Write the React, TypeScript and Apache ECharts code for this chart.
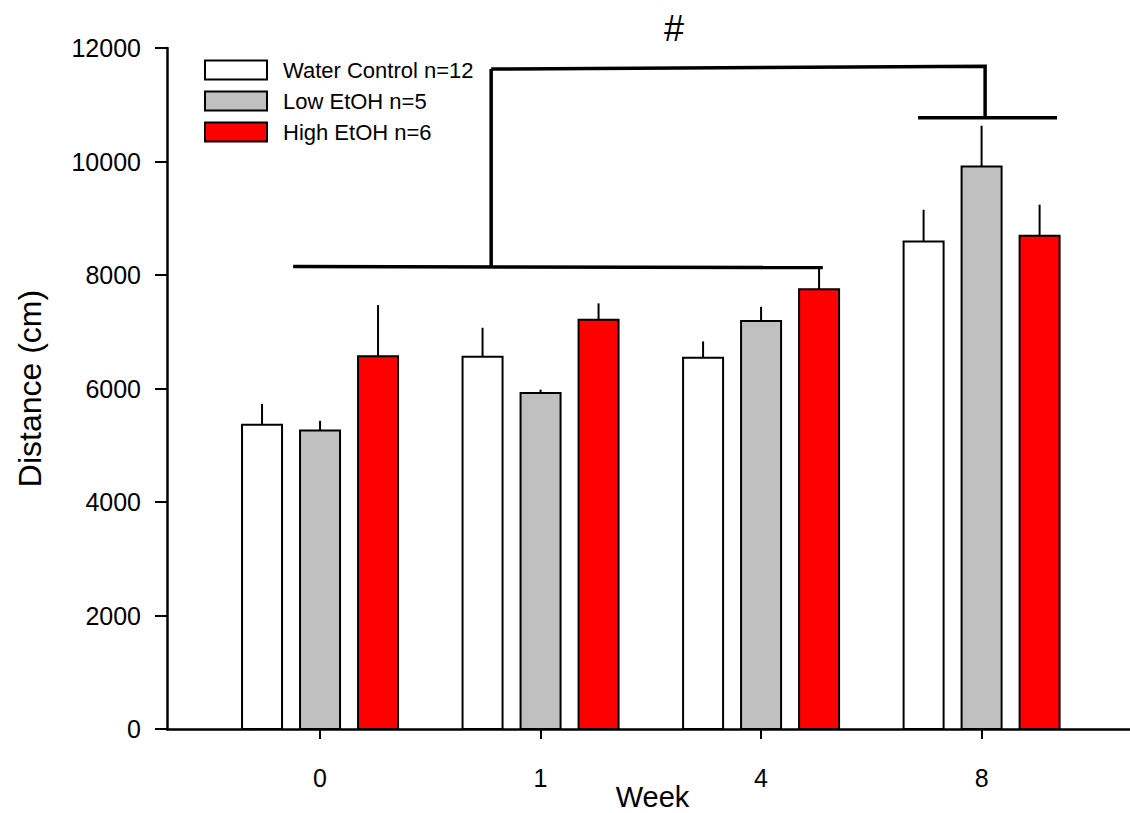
import React, { useEffect, useRef } from "react";
import * as echarts from "echarts";

const weeks = ["0", "1", "4", "8"];
const weekPos = [0, 1, 2, 3];
const seriesNames = ["Water Control n=12", "Low EtOH n=5", "High EtOH n=6"];
const waterMean = [5360, 6560, 6540, 8590];
const waterErr = [370, 510, 290, 560];
const lowMean = [5260, 5920, 7190, 9910];
const lowErr = [170, 60, 250, 720];
const highMean = [6570, 7210, 7750, 8690];
const highErr = [900, 290, 370, 550];
const yTicks = [0, 2000, 4000, 6000, 8000, 10000, 12000];

// significance bracket annotation (data coordinates)
const lowerBracket = [[-0.122, 8150], [2.28, 8130]];
const bracketStem = [[0.776, 8150], [0.776, 11630]];
const upperBracket = [[0.776, 11630], [3.016, 11680], [3.016, 10770]];
const week8Bracket = [[2.712, 10770], [3.342, 10770]];
const hashMark = [1.605, 12350];

const FONT = "'Liberation Sans', Arial, sans-serif";
const COLORS = ["#ffffff", "#c0c0c0", "#ff0000"];
const OFFSETS = [-58, 0, 58];

export default function App() {
  const ref = useRef<HTMLDivElement>(null);
  useEffect(() => {
    const chart = echarts.init(ref.current!, null, { renderer: "svg" });
    const means = [waterMean, lowMean, highMean];
    const errs = [waterErr, lowErr, highErr];

    const barSeries = seriesNames.map((name, s) => ({
      type: "custom",
      name,
      itemStyle: { color: COLORS[s], borderColor: "#000", borderWidth: 2 },
      encode: { x: 0, y: 1 },
      data: weekPos.map((p, i) => [p, means[s][i], errs[s][i]]),
      renderItem: (params: any, api: any) => {
        const x = api.value(0);
        const v = api.value(1);
        const e = api.value(2);
        const top = api.coord([x, v]);
        const base = api.coord([x, 0]);
        const et = api.coord([x, v + e]);
        const cx = top[0] + OFFSETS[s];
        return {
          type: "group",
          children: [
            {
              type: "line",
              shape: { x1: cx, y1: top[1], x2: cx, y2: et[1] },
              style: { stroke: "#000", lineWidth: 2 },
            },
            {
              type: "rect",
              shape: { x: cx - 20, y: top[1], width: 40, height: base[1] - top[1] },
              style: { fill: COLORS[s], stroke: "#000", lineWidth: 2 },
            },
          ],
        };
      },
    }));

    const shapes = [lowerBracket, bracketStem, upperBracket, week8Bracket];
    const annotSeries = {
      type: "custom",
      name: "annot",
      silent: true,
      clip: false,
      encode: { x: 0, y: 1 },
      data: shapes.map((sh) => sh[0]),
      renderItem: (params: any, api: any) => {
        const pts = shapes[params.dataIndex].map((p) => api.coord(p));
        const children: any[] = [
          {
            type: "polyline",
            shape: { points: pts },
            style: { stroke: "#000", lineWidth: 3.5, fill: "none" },
          },
        ];
        if (params.dataIndex === 0) {
          const h = api.coord(hashMark);
          children.push({
            type: "text",
            x: h[0],
            y: h[1],
            style: {
              text: "#",
              fontSize: 36,
              fontFamily: FONT,
              fill: "#000",
              align: "center",
              verticalAlign: "middle",
            },
          });
        }
        return { type: "group", children };
      },
    };

    chart.setOption({
      animation: false,
      backgroundColor: "#fff",
      textStyle: { fontFamily: FONT },
      grid: {
        left: 167,
        right: 0,
        top: 48,
        bottom: 84,
        containLabel: false,
        outerBoundsMode: "none",
      },
      legend: {
        orient: "vertical",
        left: 204,
        top: 59,
        padding: 0,
        itemWidth: 62,
        itemHeight: 19,
        itemGap: 9,
        icon: "rect",
        selectedMode: false,
        textStyle: { fontSize: 22, color: "#000", fontFamily: FONT, padding: [0, 0, 0, 11] },
        data: seriesNames.map((n, s) => ({
          name: n,
          itemStyle: { color: COLORS[s], borderColor: "#000", borderWidth: 2 },
        })),
      },
      xAxis: {
        type: "value",
        min: -0.694,
        max: 3.673,
        splitLine: { show: false },
        axisLine: { show: true, onZero: false, lineStyle: { color: "#000", width: 2.5 } },
        axisTick: { show: true, customValues: weekPos, length: 10, lineStyle: { color: "#000", width: 2 } },
        axisLabel: {
          customValues: weekPos,
          formatter: (v: number) => weeks[Math.round(v)] ?? "",
          fontSize: 25,
          color: "#000",
          margin: 36,
          fontFamily: FONT,
        },
        name: "Week",
        nameLocation: "middle",
        nameGap: 53,
        nameMoveOverlap: false,
        nameTextStyle: { fontSize: 29, color: "#000", fontFamily: FONT, padding: [0, 0, 0, 8] },
      },
      yAxis: {
        type: "value",
        min: 0,
        max: 12000,
        interval: 2000,
        splitLine: { show: false },
        axisLine: { show: true, onZero: false, lineStyle: { color: "#000", width: 2.5 } },
        axisTick: { show: true, length: 12, lineStyle: { color: "#000", width: 2 } },
        axisLabel: {
          fontSize: 25,
          color: "#000",
          margin: 26,
          fontFamily: FONT,
          customValues: yTicks,
          formatter: (v: number) => String(v),
        },
        name: "Distance (cm)",
        nameLocation: "middle",
        nameRotate: 90,
        nameGap: 121,
        nameMoveOverlap: false,
        nameTextStyle: { fontSize: 32, color: "#000", fontFamily: FONT },
      },
      series: [...barSeries, annotSeries],
    });
    return () => chart.dispose();
  }, []);
  return (
    <div
      ref={ref}
      style={{ position: "absolute", left: 0, top: 0, width: 1130, height: 813 }}
    />
  );
}
